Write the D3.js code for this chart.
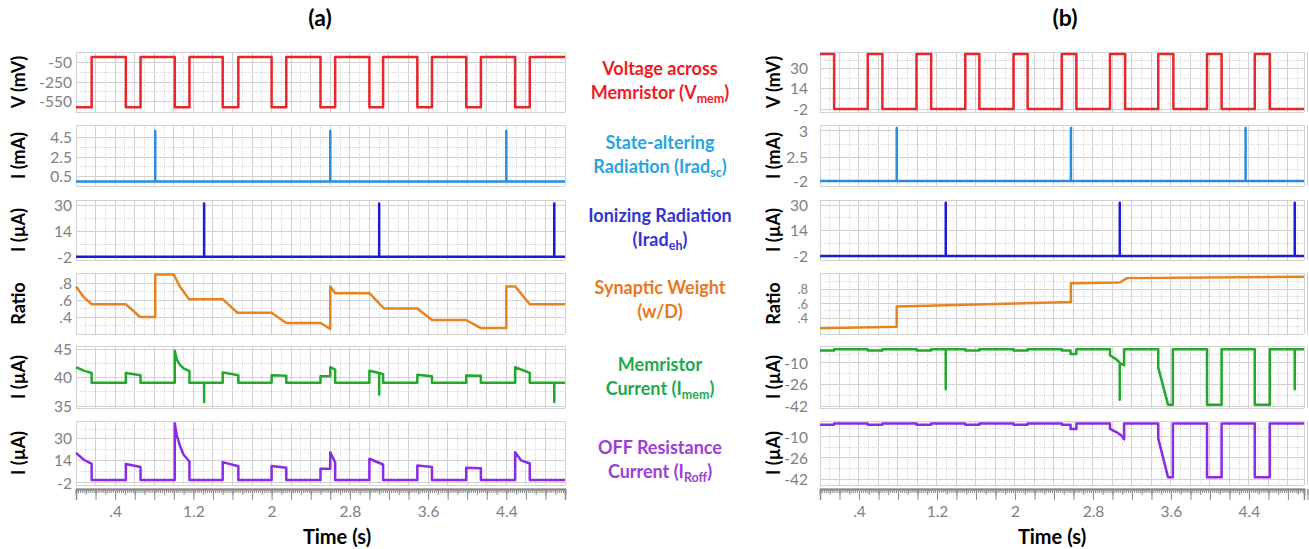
<!DOCTYPE html>
<html>
<head>
<meta charset="utf-8">
<script src="https://cdn.jsdelivr.net/npm/d3@7"></script>
<style>
    body { margin: 0; background: #fff; }
    svg { font-family: Lato, "Open Sans", sans-serif; }
    .grid line { stroke: #d2d2d2; stroke-width: 1; shape-rendering: crispEdges; }
    .grid line.minor { stroke: #d8d8d8; stroke-dasharray: 1,1; }
    .yaxis text, .xaxis text { fill: #808080; font-size: 15.5px; }
    .trace { fill: none; stroke-width: 2.5; stroke-linejoin: round; }
</style>
</head>
<body>
<script>

// time axis labels (s)
var timeLabels = [0.4, 1.2, 2, 2.8, 3.6, 4.4];

// ---------- (a) ----------
// voltage across memristor: switching times (s) and level after each switch (mV)
var vmemA_t = [0, 0.16, 0.51, 0.66, 1.01, 1.16, 1.50, 1.66, 2.0, 2.15, 2.5, 2.65, 3.0, 3.14, 3.49, 3.64, 3.99, 4.14, 4.49, 4.64, 5];
var vmemA_v = [-650, 0, -650, 0, -650, 0, -650, 0, -650, 0, -650, 0, -650, 0, -650, 0, -650, 0, -650, 0, 0];

// state-altering radiation pulses (s), peak and base (mA)
var iradScA_t = [0.81, 2.60, 4.40];
var iradScA_peak = 5.1, iradScA_base = 0;

// ionizing radiation pulses (s), peak and base (uA)
var iradEhA_t = [1.31, 3.10, 4.89];
var iradEhA_peak = 31, iradEhA_base = -1.8;

// synaptic weight [t, w/D]
var weightA = [[0, 0.76], [0.075, 0.64], [0.16, 0.55], [0.51, 0.55], [0.655, 0.40], [0.81, 0.40], [0.81, 0.90],
    [1.0, 0.90], [1.064, 0.755], [1.156, 0.61], [1.50, 0.61], [1.65, 0.45], [2.0, 0.45], [2.15, 0.33],
    [2.50, 0.33], [2.60, 0.26], [2.60, 0.76], [2.65, 0.68], [3.0, 0.68], [3.15, 0.50], [3.49, 0.50],
    [3.64, 0.365], [3.99, 0.365], [4.14, 0.27], [4.40, 0.27], [4.40, 0.76], [4.49, 0.76], [4.64, 0.55], [5, 0.55]];

// memristor current [t, uA]
var imemA = [[0, 41.8], [0.08, 41.2], [0.16, 40.8], [0.16, 39.1], [0.51, 39.1], [0.51, 40.8], [0.66, 40.4], [0.66, 39.1],
    [1.01, 39.1], [1.01, 44.7], [1.03, 43.2], [1.06, 42.3], [1.10, 41.6], [1.16, 41.1], [1.16, 39.1],
    [1.31, 39.1], [1.31, 35.7], [1.31, 39.1], [1.50, 39.1], [1.50, 40.9], [1.66, 40.4], [1.66, 39.1],
    [2.0, 39.1], [2.0, 40.4], [2.15, 40.3], [2.15, 39.1], [2.50, 39.1], [2.50, 40.2], [2.60, 40.2], [2.60, 41.8],
    [2.65, 41.4], [2.65, 39.1], [3.0, 39.1], [3.0, 41.2], [3.10, 40.8], [3.10, 37.0], [3.10, 40.8], [3.14, 40.6],
    [3.14, 39.1], [3.49, 39.1], [3.49, 40.5], [3.64, 40.2], [3.64, 39.1], [3.99, 39.1], [3.99, 40.35], [4.14, 40.3],
    [4.14, 39.1], [4.49, 39.1], [4.49, 41.8], [4.64, 40.8], [4.64, 39.1], [4.89, 39.1], [4.89, 35.7], [4.89, 39.1], [5, 39.1]];

// OFF resistance current [t, uA]
var iroffA = [[0, 19.3], [0.08, 14.4], [0.16, 11.4], [0.16, 0], [0.51, 0], [0.51, 11.4], [0.66, 9.2], [0.66, 0],
    [1.01, 0], [1.01, 40.6], [1.03, 32], [1.06, 25], [1.10, 18], [1.16, 13.1], [1.16, 0],
    [1.50, 0], [1.50, 12.7], [1.66, 9.7], [1.66, 0], [2.0, 0], [2.0, 9.9], [2.15, 8.7], [2.15, 0],
    [2.50, 0], [2.50, 8], [2.60, 8], [2.60, 19.7], [2.65, 12.6], [2.65, 0], [3.0, 0], [3.0, 15.1], [3.14, 11], [3.14, 0],
    [3.49, 0], [3.49, 10.3], [3.64, 9.2], [3.64, 0], [3.99, 0], [3.99, 8.6], [4.14, 8.4], [4.14, 0],
    [4.49, 0], [4.49, 19.7], [4.55, 14], [4.64, 11.7], [4.64, 0], [5, 0]];

// ---------- (b) ----------
var vmemB_t = [0, 0.145, 0.49, 0.64, 0.99, 1.14, 1.49, 1.635, 1.985, 2.13, 2.48, 2.63, 2.975, 3.13, 3.47, 3.625, 3.97, 4.12, 4.46, 4.615, 4.965];
var vmemB_v = [41, -2, 41, -2, 41, -2, 41, -2, 41, -2, 41, -2, 41, -2, 41, -2, 41, -2, 41, -2, -2];

var iradScB_t = [0.787, 2.574, 4.366];
var iradScB_peak = 3.05, iradScB_base = -2;

var iradEhB_t = [1.29, 3.075, 4.87];
var iradEhB_peak = 31.4, iradEhB_base = -2;

var weightB = [[0, 0.26], [0.787, 0.28], [0.787, 0.56], [1.3, 0.575], [2.0, 0.6], [2.574, 0.62], [2.574, 0.88],
    [3.075, 0.89], [3.15, 0.95], [4.965, 0.97]];

var imemB = [[0, -1], [0.145, -1], [0.145, 0], [0.49, 0], [0.49, -1], [0.64, -1], [0.64, 0], [0.99, 0], [0.99, -1],
    [1.14, -1], [1.14, 0], [1.29, 0], [1.29, -29.7], [1.29, 0], [1.49, 0], [1.49, -1], [1.635, -1], [1.635, 0],
    [1.985, 0], [1.985, -1], [2.13, -1], [2.13, 0], [2.48, 0], [2.48, -1], [2.57, -1], [2.57, -3.5], [2.63, -3.5],
    [2.63, 0], [2.975, 0], [2.975, -4.5], [3.04, -7.5], [3.075, -10], [3.075, -37.4], [3.075, -10.3], [3.12, -11.8],
    [3.12, 0], [3.47, 0], [3.47, -13.6], [3.57, -41], [3.62, -41], [3.62, 0], [3.97, 0], [3.97, -41], [4.12, -41],
    [4.12, 0], [4.46, 0], [4.46, -41], [4.615, -41], [4.615, 0], [4.87, 0], [4.87, -29.7], [4.87, 0], [4.965, 0]];

var iroffB = [[0, -1], [0.145, -1], [0.145, 0], [0.49, 0], [0.49, -1], [0.64, -1], [0.64, 0], [0.99, 0], [0.99, -1],
    [1.14, -1], [1.14, 0], [1.49, 0], [1.49, -1], [1.635, -1], [1.635, 0], [1.985, 0], [1.985, -1], [2.13, -1],
    [2.13, 0], [2.48, 0], [2.48, -1], [2.57, -1], [2.57, -4.2], [2.63, -4.2], [2.63, 0], [2.975, 0], [2.975, -4],
    [3.04, -6.5], [3.09, -9], [3.12, -12], [3.12, 0], [3.47, 0], [3.47, -11.5], [3.57, -40.6], [3.62, -40.6],
    [3.62, 0], [3.97, 0], [3.97, -40.6], [4.12, -40.6], [4.12, 0], [4.46, 0], [4.46, -40.6], [4.615, -40.6],
    [4.615, 0], [4.965, 0]];

// tick values for every panel
var ticksA = [[-550, -250, -50], [0.5, 2.5, 4.5], [-2, 14, 30], [0.4, 0.6, 0.8], [35, 40, 45], [-2, 14, 30]];
var ticksB = [[-2, 14, 30], [-2, 2.5, 3], [-2, 14, 30], [0.4, 0.6, 0.8], [-42, -26, -10], [-42, -26, -10]];

var yTitles = ["V (mV)", "I (mA)", "I (\u00b5A)", "Ratio", "I (\u00b5A)", "I (\u00b5A)"];


var svg = d3.select("body")
    .append("svg")
    .attr("width", 1309)
    .attr("height", 549);

// vertical extent of the six strips
var boxes = [[52, 112], [125, 186], [200, 260], [273, 334], [346, 408], [421, 485]];

var colors = ["#e8262b", "#2a8ce0", "#1c1cd6", "#e8831f", "#22a82b", "#8a2be6"];

// pixel position of the tick values in each strip
var tickPixA = [[101, 82, 62], [176.5, 157, 137], [257, 231, 205], [317, 300, 283], [406, 377.5, 349], [482.7, 460.3, 438]];
var tickPixB = [[109, 88.5, 68], [181, 157.3, 130.7], [256, 230.5, 205], [318, 303.5, 289], [406, 384.3, 362.7], [479, 457.8, 436.7]];

function yScales(ticks, pix) {
    return ticks.map(function(t, i) {
        return d3.scaleLinear().domain(t).range(pix[i]);
    });
}

function stepPts(ts, vs) {
    return ts.map(function(t, i) { return [t, vs[i]]; });
}

function spikePts(ts, base, peak, tEnd) {
    var pts = [[0, base]];
    ts.forEach(function(t) { pts.push([t, base], [t, peak], [t, base]); });
    pts.push([tEnd, base]);
    return pts;
}

// ".4" style labels for ratio and time, plain numbers for the rest
function shortFmt(d) {
    var s = String(d);
    if (s.indexOf("0.") === 0) s = s.slice(1);
    return s;
}

function plainFmt(d) {
    return String(d);
}

function drawSide(opt) {
    var x = d3.scaleLinear().domain([0, opt.tMax]).range(opt.xRange);
    var ys = yScales(opt.ticks, opt.tickPix);
    var g = svg.append("g");

    opt.series.forEach(function(s, i) {
        var y = ys[i];
        var box = boxes[i];

        // grid, vertical every 0.1 s
        var grid = g.append("g").attr("class", "grid");
        d3.range(0, Math.round(opt.tMax * 10) + 1).forEach(function(k) {
            grid.append("line")
                .attr("class", k % 2 ? "minor" : null)
                .attr("x1", x(k / 10)).attr("x2", x(k / 10))
                .attr("y1", box[0]).attr("y2", box[1]);
        });
        grid.append("line").attr("x1", opt.xRange[1]).attr("x2", opt.xRange[1]).attr("y1", box[0]).attr("y2", box[1]);

        // grid, horizontal at ticks, between ticks and at the strip edges
        var tp = opt.ticks[i].map(y);
        var hLines = [{p: box[0], minor: false}, {p: box[1], minor: false}];
        tp.forEach(function(p, j) {
            hLines.push({p: p, minor: false});
            if (j > 0) hLines.push({p: (p + tp[j - 1]) / 2, minor: true});
        });
        var top = d3.min(tp), bot = d3.max(tp);
        if (top - box[0] > 14) hLines.push({p: (top + box[0]) / 2, minor: true});
        if (box[1] - bot > 14) hLines.push({p: (bot + box[1]) / 2, minor: true});
        hLines.forEach(function(h) {
            grid.append("line")
                .attr("class", h.minor ? "minor" : null)
                .attr("x1", opt.xRange[0]).attr("x2", opt.xRange[1])
                .attr("y1", h.p).attr("y2", h.p);
        });

        // y axis labels
        var yAxis = d3.axisLeft(y)
            .tickValues(opt.ticks[i])
            .tickSize(0)
            .tickPadding(0)
            .tickFormat(i === 3 ? shortFmt : plainFmt);
        var ya = g.append("g")
            .attr("class", "yaxis")
            .attr("transform", "translate(" + opt.labelRight + ",0)")
            .call(yAxis);
        ya.select(".domain").remove();
        ya.selectAll("text").attr("dy", "0.35em").attr("font-family", "Lato, sans-serif");
        if (s.labelSize) ya.selectAll("text").style("font-size", s.labelSize);

        // y axis title
        g.append("text")
            .attr("transform", "translate(" + opt.titleX + "," + ((box[0] + box[1]) / 2) + ") rotate(-90)")
            .attr("text-anchor", "middle")
            .attr("dy", "0.35em")
            .style("font-weight", "bold")
            .style("font-size", "18px")
            .text(yTitles[i]);

        // the trace itself
        var line = d3.line()
            .x(function(d) { return x(d[0]); })
            .y(function(d) { return y(d[1]); })
            .curve(s.step ? d3.curveStepAfter : d3.curveLinear);

        g.append("path")
            .datum(s.data)
            .attr("class", "trace")
            .attr("stroke", colors[i])
            .attr("d", line);
    });

    // ruler-like time axis
    var axisY = 489;
    var minor = d3.range(0, Math.round(opt.tMax * 50) + 1).map(function(k) { return k / 50; });
    var mid = d3.range(0, Math.round(opt.tMax * 10) + 1).map(function(k) { return k / 10; });
    var major = d3.range(0, Math.round(opt.tMax * 5) + 1).map(function(k) { return k / 5; });

    var ax = g.append("g").attr("class", "xaxis").attr("transform", "translate(0," + axisY + ")");
    ax.append("g").call(d3.axisBottom(x).tickValues(minor).tickSize(4).tickFormat(""));
    ax.append("g").call(d3.axisBottom(x).tickValues(mid).tickSize(6).tickFormat(""));
    ax.append("g").call(d3.axisBottom(x).tickValues(major).tickSize(11).tickFormat(""));
    ax.append("g").call(d3.axisBottom(x).tickValues(timeLabels).tickSize(0).tickPadding(17).tickFormat(shortFmt));
    ax.selectAll(".domain").attr("stroke", "#8c8c8c").attr("stroke-width", 1.5);
    ax.selectAll(".tick line").attr("stroke", "#8c8c8c");
    ax.selectAll("text").attr("font-family", "Lato, sans-serif");

    g.append("text")
        .attr("x", opt.timeTitleX)
        .attr("y", 544)
        .attr("text-anchor", "middle")
        .style("font-weight", "bold")
        .style("font-size", "20px")
        .text("Time (s)");

    g.append("text")
        .attr("x", opt.panelTitleX)
        .attr("y", 26)
        .attr("text-anchor", "middle")
        .style("font-weight", "bold")
        .style("font-size", "23px")
        .text(opt.panelTitle);
}

drawSide({
    tMax: 5, xRange: [76, 565], labelRight: 72, titleX: 19, timeTitleX: 337, panelTitleX: 320, panelTitle: "(a)",
    ticks: ticksA, tickPix: tickPixA,
    series: [
        {data: stepPts(vmemA_t, vmemA_v), step: true},
        {data: spikePts(iradScA_t, iradScA_base, iradScA_peak, 5)},
        {data: spikePts(iradEhA_t, iradEhA_base, iradEhA_peak, 5)},
        {data: weightA},
        {data: imemA},
        {data: iroffA}
    ]
});

drawSide({
    tMax: 4.965, xRange: [820, 1304], labelRight: 808, titleX: 774, timeTitleX: 1052, panelTitleX: 1065, panelTitle: "(b)",
    ticks: ticksB, tickPix: tickPixB,
    series: [
        {data: stepPts(vmemB_t, vmemB_v), step: true},
        {data: spikePts(iradScB_t, iradScB_base, iradScB_peak, 4.965)},
        {data: spikePts(iradEhB_t, iradEhB_base, iradEhB_peak, 4.965)},
        {data: weightB, labelSize: "13px"},
        {data: imemB},
        {data: iroffB}
    ]
});

// labels in the middle column
var midLabels = [
    {y: 69, color: "#ec1c24", lines: [["Voltage across"], ["Memristor (V", "mem", ")"]]},
    {y: 143, color: "#27a4e4", lines: [["State-altering"], ["Radiation (Irad", "sc", ")"]]},
    {y: 216, color: "#3333d8", lines: [["Ionizing Radiation"], ["(Irad", "eh", ")"]]},
    {y: 288, color: "#e6791e", lines: [["Synaptic Weight"], ["(w/D)"]]},
    {y: 365, color: "#1daa4e", lines: [["Memristor"], ["Current (I", "mem", ")"]]},
    {y: 448, color: "#9a40d8", lines: [["OFF Resistance"], ["Current (I", "Roff", ")"]]}
];

midLabels.forEach(function(lab) {
    lab.lines.forEach(function(parts, j) {
        var t = svg.append("text")
            .attr("x", 660)
            .attr("y", lab.y + j * 24 + 6)
            .attr("text-anchor", "middle")
            .attr("fill", lab.color)
            .style("font-weight", "bold")
            .style("font-size", "18px");
        t.append("tspan").text(parts[0]);
        if (parts.length > 1) {
            t.append("tspan").attr("dy", 4).style("font-size", "12.5px").text(parts[1]);
            t.append("tspan").attr("dy", -4).text(parts[2]);
        }
    });
});

</script>
</body>
</html>
